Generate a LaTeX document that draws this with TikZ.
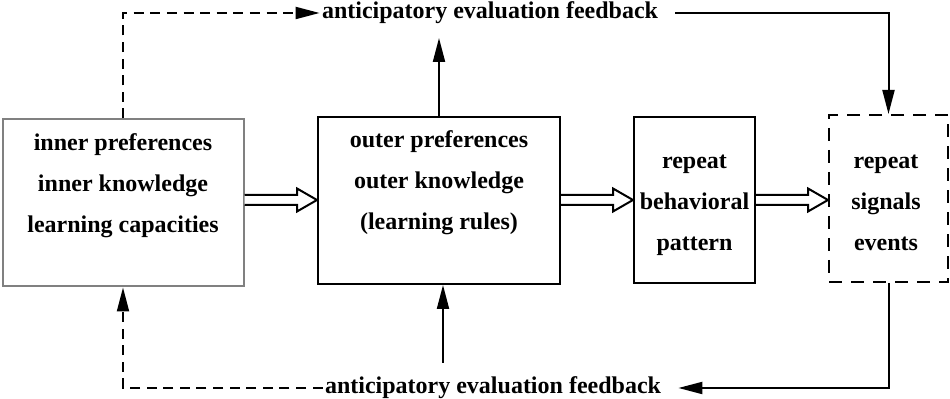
\documentclass[tikz,border=0pt]{standalone}
\usepackage{fontspec}
\setmainfont{Liberation Serif}
\usepackage{tikz}
\usetikzlibrary{arrows.meta, calc}

\begin{document}
\begin{tikzpicture}[x=0.5pt, y=-0.5pt,
  box/.style={draw, line width=1pt, inner sep=0pt},
  txt/.style={align=center, inner sep=1pt,
              font=\fontsize{12pt}{20.5pt}\selectfont\bfseries},
  arr/.style={line width=1pt, -{Triangle[length=12pt, width=6pt]}},
  fbdash/.style={dash pattern=on 5pt off 3.3pt},
  fat/.style={draw, line width=1pt, fill=white, line join=miter}]
  \useasboundingbox (0,0) rectangle (950,399);

  % boxes
  \node[box, draw=gray, minimum width=120.5pt, minimum height=83.5pt] (inner) at (123,203) {};
  \node[box, minimum width=121pt, minimum height=83.5pt] (outer) at (439,200.5) {};
  \node[box, minimum width=60.5pt, minimum height=83pt] (pattern) at (694.5,200) {};
  \node[box, dash pattern=on 6.5pt off 4.5pt, minimum width=59.5pt, minimum height=83.5pt] (signals) at (888.5,198.5) {};

  \node[txt] (innertxt) at (123,186) {inner preferences\\inner knowledge\\learning capacities};
  \node[txt] (outertxt) at (439,183) {outer preferences\\outer knowledge\\(learning rules)};
  \node[txt] (patterntxt) at (694.5,205) {repeat\\behavioral\\pattern};
  \node[txt] (signalstxt) at (886,203) {repeat\\signals\\events};

  % feedback labels
  \node[txt] (topfb) at (490,13) {anticipatory evaluation feedback};
  \node[txt] (botfb) at (493,388) {anticipatory evaluation feedback};

  % hollow arrows
  \coordinate (mid) at (0,200);
  \foreach \a/\b in {inner/outer, outer/pattern, pattern/signals}
    \draw[fat] ($(\a.east |- mid)+(0,-5)$) -- ($(\b.west |- mid)+(-20,-5)$)
      -- ++(0,-6.5) -- (\b.west |- mid) -- ($(\b.west |- mid)+(-20,11.5)$)
      -- ++(0,-6.5) -- ($(\a.east |- mid)+(0,5)$);

  % feedback loops
  \coordinate (fbout) at (439,38);
  \coordinate (fbin) at (443,363);
  \draw[arr] (outer.north) -- (fbout);
  \draw[arr] (fbin) -- (fbin |- outer.south);
  \draw[arr, fbdash] (inner.north) |- (topfb.west);
  \draw[arr] ([xshift=7.5pt]topfb.east) -| (signals.north);
  \draw[arr] (signals.south) |- ([xshift=7.5pt]botfb.east);
  \draw[arr, fbdash] (botfb.west) -| (inner.south);
\end{tikzpicture}
\end{document}
